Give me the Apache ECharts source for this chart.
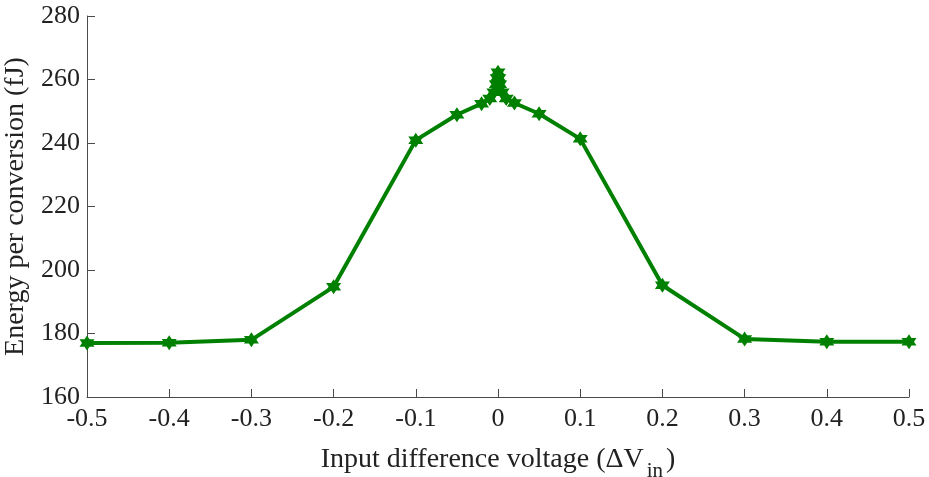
<!DOCTYPE html>
<html>
<head>
<meta charset="utf-8">
<script src="https://cdn.jsdelivr.net/npm/echarts@6/dist/echarts.min.js"></script>
<style>
html,body{margin:0;padding:0;background:#fff;overflow:hidden;}
#chart{width:929px;height:477px;}
</style>
</head>
<body>
<div id="chart"></div>
<script>
var deltaVin = [-0.5, -0.4, -0.3, -0.2, -0.1, -0.05, -0.02, -0.01, -0.005, -0.002, -0.001, 0, 0.001, 0.002, 0.005, 0.01, 0.02, 0.05, 0.1, 0.2, 0.3, 0.4, 0.5];
var energy = [177.0, 177.1, 178.0, 194.7, 240.9, 248.9, 252.4, 254.0, 256.0, 258.5, 260.5, 262.3, 260.5, 258.5, 256.0, 254.0, 252.6, 249.2, 241.3, 195.2, 178.3, 177.4, 177.4];
var xTicks = [-0.5, 0.5, 0.1];
var yTicks = [160, 280, 20];
var yTitle = 'Energy per conversion (fJ)';
var xTitleMain = 'Input difference voltage (ΔV';
var xTitleSub = 'in';

var FONT = '"Liberation Serif", "Times New Roman", serif';
var hexagram = 'path://M0,-10 L2.887,-5 L8.66,-5 L5.774,0 L8.66,5 L2.887,5 L0,10 L-2.887,5 L-8.66,5 L-5.774,0 L-8.66,-5 L-2.887,-5 Z';

var chart = echarts.init(document.getElementById('chart'), null, {renderer: 'canvas', width: 929, height: 477});
var pts = deltaVin.map(function (x, i) { return [x, energy[i]]; });

chart.setOption({
  animation: false,
  backgroundColor: '#ffffff',
  grid: {left: 87, right: 20, top: 16, bottom: 80, containLabel: false, outerBoundsMode: 'none'},
  xAxis: {
    type: 'value', min: xTicks[0], max: xTicks[1], interval: xTicks[2],
    axisLine: {show: true, onZero: false, lineStyle: {color: '#4a4a4a', width: 1}},
    axisTick: {show: true, inside: true, length: 8, lineStyle: {color: '#4a4a4a'}},
    splitLine: {show: false},
    axisLabel: {color: '#222', fontFamily: FONT, fontSize: 26, margin: 9,
      formatter: function (v) { return String(Math.round(v * 10) / 10); }},
    name: '{m|' + xTitleMain + '}{s|' + xTitleSub + '}{m|)}',
    nameLocation: 'middle', nameGap: 6,
    nameTextStyle: {
      verticalAlign: 'top',
      rich: {
        m: {fontFamily: FONT, fontSize: 28, color: '#222', lineHeight: 32},
        s: {fontFamily: FONT, fontSize: 21, color: '#222', padding: [24, 3, 0, 3], lineHeight: 32}
      }
    }
  },
  yAxis: {
    type: 'value', min: yTicks[0], max: yTicks[1], interval: yTicks[2],
    axisLine: {show: true, onZero: false, lineStyle: {color: '#4a4a4a', width: 1}},
    axisTick: {show: true, inside: true, length: 8, lineStyle: {color: '#4a4a4a'}},
    splitLine: {show: false},
    axisLabel: {color: '#222', fontFamily: FONT, fontSize: 26, margin: 7},
    name: yTitle,
    nameLocation: 'middle', nameRotate: 90, nameGap: 36,
    nameTextStyle: {fontFamily: FONT, fontSize: 28, color: '#222'}
  },
  series: [{
    type: 'line',
    data: pts,
    lineStyle: {color: '#008000', width: 4},
    itemStyle: {color: '#008000'},
    symbol: hexagram,
    symbolSize: 15,
    showSymbol: true,
    z: 3
  }]
});
</script>
</body>
</html>
